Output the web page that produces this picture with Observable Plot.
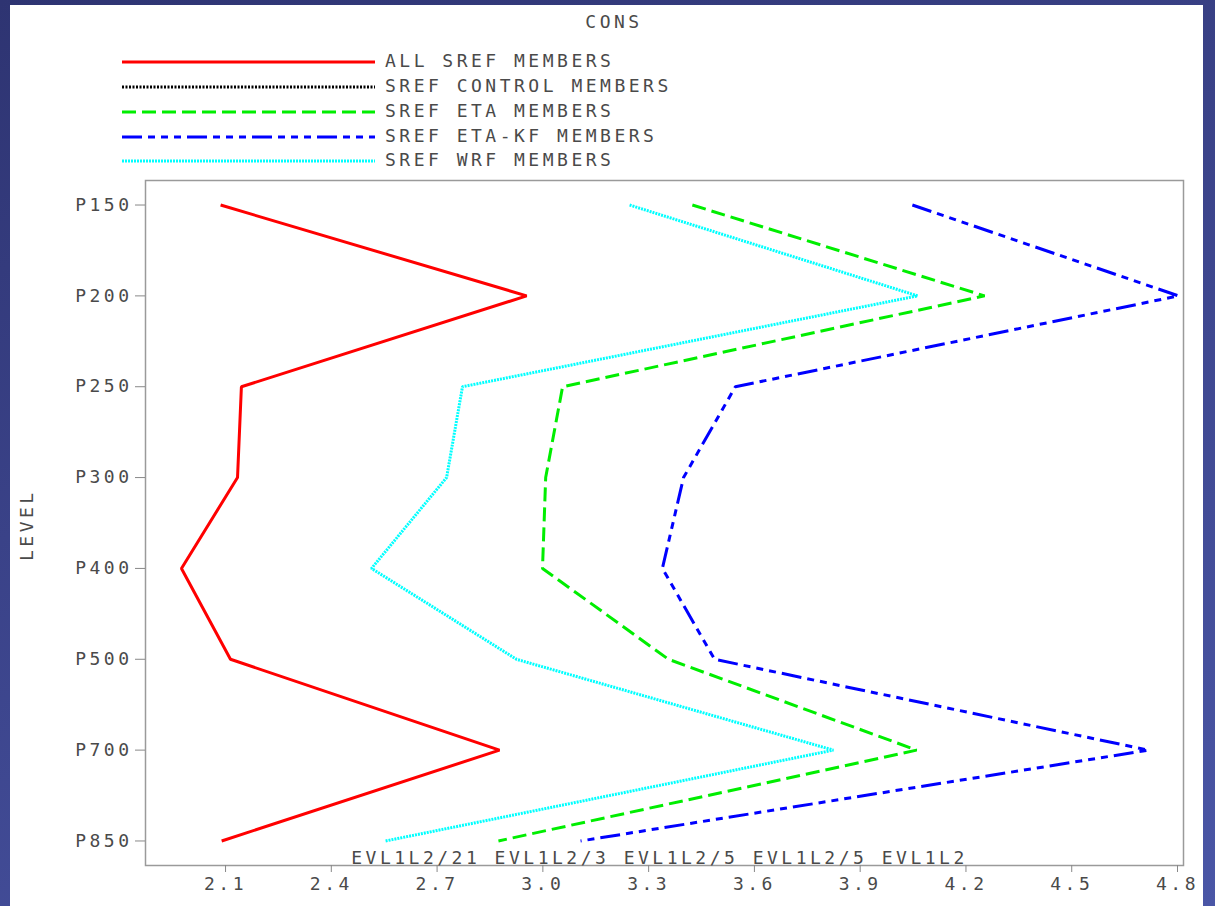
<!DOCTYPE html>
<html>
<head>
<meta charset="utf-8">
<script src="https://cdn.jsdelivr.net/npm/d3@7"></script>
<script src="https://cdn.jsdelivr.net/npm/@observablehq/plot@0.6"></script>
<style>
  html, body { margin: 0; padding: 0; }
  body {
    width: 1215px; height: 906px; overflow: hidden; position: relative;
    background: linear-gradient(160deg, #2e3472 0%, #3a4288 40%, #4a56a6 100%);
    font-family: "DejaVu Sans Mono", monospace;
  }
  #panel {
    position: absolute; left: 10px; top: 5px; width: 1193px; height: 901px;
    background: #fff;
  }
  .txt { position: absolute; font-size: 18px; letter-spacing: 3.5px; color: #4a4a4a; white-space: nowrap; }
  #title { left: 0; width: 1193px; text-align: center; top: 6px; padding-left: 15px; box-sizing: border-box; }
  #legend { position: absolute; left: 0; top: 0; }
  #ylabel { left: 6px; top: 556px; transform: rotate(-90deg); transform-origin: left top; }
  #chart { position: absolute; left: 0; top: 165px; }
</style>
</head>
<body>
<div id="panel">
  <div id="title" class="txt">CONS</div>
  <div id="legend"></div>
  <div id="chart"></div>
</div>
<script>
const levels = ["P150", "P200", "P250", "P300", "P400", "P500", "P700", "P850"];
const seriesNames = ["ALL SREF MEMBERS", "SREF CONTROL MEMBERS", "SREF ETA MEMBERS", "SREF ETA-KF MEMBERS", "SREF WRF MEMBERS"];
const seriesColors = ["#ff0000", "#000000", "#00ee00", "#0000ff", "#00ffff"];
const seriesDash = ["none", "2,1.5", "14,6", "20,6,7,6,7,6,7,6", "2,1"];
const allValues = [2.086, 2.954, 2.145, 2.134, 1.975, 2.114, 2.877, 2.089];
const controlValues = [];
const etaValues = [3.424, 4.253, 3.056, 3.008, 2.999, 3.356, 4.060, 2.874];
const etaKfValues = [4.048, 4.803, 3.546, 3.399, 3.339, 3.487, 4.718, 3.107];
const wrfValues = [3.246, 4.063, 2.772, 2.727, 2.514, 2.925, 3.824, 2.554];
const xTicks = [2.1, 2.4, 2.7, 3.0, 3.3, 3.6, 3.9, 4.2, 4.5, 4.8];
const captionText = "EVL1L2/21 EVL1L2/3 EVL1L2/5 EVL1L2/5 EVL1L2";
const yLabel = "LEVEL";

const seriesValues = [allValues, controlValues, etaValues, etaKfValues, wrfValues];

// Legend (HTML)
const legend = document.getElementById("legend");
const legendY = [57, 82, 107, 132, 156];
seriesNames.forEach((name, i) => {
  const row = document.createElement("div");
  row.style.cssText = `position:absolute;left:112px;top:${legendY[i] - 10}px;width:600px;height:20px;`;
  const dash = seriesDash[i] === "none" ? "" : `stroke-dasharray="${seriesDash[i]}"`;
  row.innerHTML = `<svg width="254" height="20" style="position:absolute;left:0;top:0">
      <line x1="0" x2="253" y1="10" y2="10" stroke="${seriesColors[i]}" stroke-width="3" ${dash}/></svg>
      <span class="txt" style="left:263px;top:-2px">${name}</span>`;
  legend.appendChild(row);
});

const yl = document.createElement("div");
yl.className = "txt";
yl.id = "ylabel";
yl.textContent = yLabel;
document.getElementById("panel").appendChild(yl);

const rows = seriesValues.flatMap((vals, i) =>
  vals.map((v, j) => ({series: seriesNames[i], level: levels[j], value: v, idx: i})));

const lineMarks = seriesNames.map((name, i) =>
  Plot.line(rows.filter(d => d.idx === i), {
    x: "value", y: "level",
    stroke: seriesColors[i], strokeWidth: 3,
    strokeDasharray: seriesDash[i] === "none" ? undefined : seriesDash[i],
    strokeLinejoin: "miter", strokeLinecap: "butt"
  }));

const chart = Plot.plot({
  width: 1193,
  height: 736,
  marginLeft: 135,
  marginRight: 20,
  marginTop: 10,
  marginBottom: 41,
  style: {
    background: "#fff",
    fontFamily: "DejaVu Sans Mono, monospace",
    fontSize: "18px",
    letterSpacing: "3.5px",
    color: "#4a4a4a",
    overflow: "visible"
  },
  x: {domain: [1.873, 4.817]},
  y: {type: "point", domain: levels, padding: 0.27, round: false},
  marks: [
    Plot.frame({stroke: "#9a9a9a", strokeWidth: 1.5}),
    Plot.axisY({tickSize: 10, tickPadding: 3, stroke: "#888", label: null, fill: "#4a4a4a"}),
    Plot.axisX({ticks: xTicks, tickFormat: d => d.toFixed(1), tickSize: 7, tickPadding: 5, stroke: "#888", label: null, fill: "#4a4a4a"}),
    ...lineMarks,
    Plot.text([captionText], {text: d => d, frameAnchor: "bottom", dx: -5, dy: -2, fill: "#4a4a4a", fontSize: 18})
  ]
});
document.getElementById("chart").appendChild(chart);
</script>
</body>
</html>
